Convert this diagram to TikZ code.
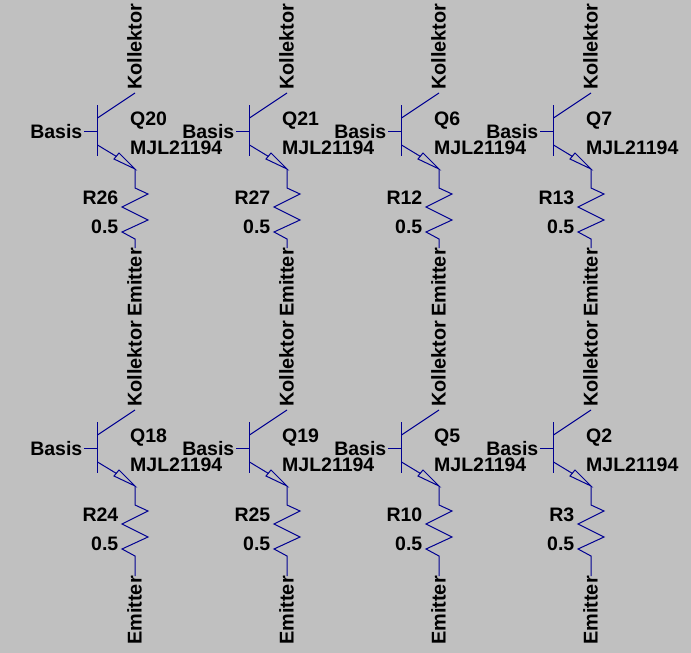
\documentclass[tikz,border=0pt]{standalone}
\usepackage{fontspec}
\setmainfont{Liberation Sans}
\definecolor{wirecolor}{RGB}{0,0,145}
\definecolor{sheetcolor}{RGB}{192,192,192}
\tikzset{
  wire/.style={wirecolor,line width=1pt},
  lbl/.style={font=\fontsize{19.5}{20}\selectfont\bfseries,inner sep=0pt,text=black},
  vlbl/.style={lbl,rotate=90,anchor=base west},
}
\begin{document}
\begin{tikzpicture}[x=1pt,y=-1pt]
  % Sheet
  \fill[sheetcolor] (0,0) rectangle (691,653);
  \useasboundingbox (0,0) rectangle (691,653);

  % One transistor with its resistor per cell (\dw: longer emitter lead)
  \foreach \dx/\dy/\dw/\qname/\rname in {
      0/0/0/Q20/R26,152/0/0/Q21/R27,304/0/0/Q6/R12,456/0/0/Q7/R13,
      0/317/11/Q18/R24,152/317/11/Q19/R25,304/317/11/Q5/R10,456/317/11/Q2/R3}
  {
    \begin{scope}[shift={(\dx,\dy)}]
      % Labels
      \node[vlbl,font=\fontsize{19.9}{20}\selectfont\bfseries] (k\qname) at (141.5,90) {Kollektor};
      \node[vlbl,font=\fontsize{19.9}{20}\selectfont\bfseries] (e\qname) at (141.5,317+\dw) {Emitter};
      \node[lbl,anchor=base east] (b\qname) at (82.5,138.5) {Basis};
      \node[lbl,anchor=base west] (n\qname) at (130,125.5) {\qname};
      \node[lbl,anchor=base west] (m\qname) at (130,154.5) {MJL21194};
      \node[lbl,anchor=base east] (r\qname) at (118.5,204) {\rname};
      \node[lbl,anchor=base east] (v\qname) at (118.5,233) {0.5};

      % Transistor
      \coordinate (c\qname) at (135,93);
      \coordinate (t\qname) at (135,169);
      \draw[wire] (84,131) -- (97.5,131);
      \draw[wire] (97.5,105) -- (97.5,156);
      \draw[wire] (97.5,118) -- (c\qname);
      \draw[wire] (97.5,145) -- (116.5,156.5);
      \draw[wire] (t\qname) -- (114,159) -- (119,153) -- cycle;

      % Resistor
      \draw[wire] (t\qname) -- (135,188) -- (148,194) -- (122,207) -- (148,220)
        -- (122,232) -- (135,239) -- (135,248+\dw);
    \end{scope}
  }
\end{tikzpicture}
\end{document}
